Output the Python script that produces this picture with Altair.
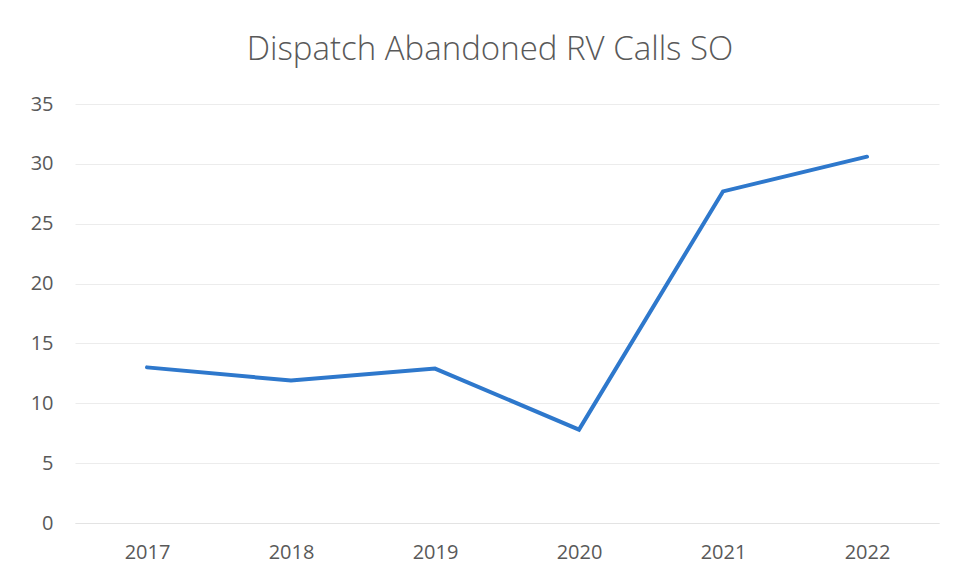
import altair as alt
import pandas as pd

years = ["2017", "2018", "2019", "2020", "2021", "2022"]
calls = [13.0, 11.9, 12.9, 7.8, 27.7, 30.6]

df = pd.DataFrame({"year": years, "calls": calls})

chart = alt.Chart(df).mark_line(
    color="#2E78CC", strokeWidth=4, strokeCap="round", strokeJoin="miter"
).encode(
    x=alt.X("year:N", sort=years, title=None,
            scale=alt.Scale(paddingInner=1, paddingOuter=0.5),
            axis=alt.Axis(labelAngle=0, labelFontSize=20, labelColor="#595959",
                          labelFont="Open Sans", ticks=False, domain=True,
                          domainColor="#e3e3e3", labelPadding=19, grid=False)),
    y=alt.Y("calls:Q", title=None,
            scale=alt.Scale(domain=[0, 35], nice=False),
            axis=alt.Axis(values=[0, 5, 10, 15, 20, 25, 30, 35], labelFontSize=20,
                          labelColor="#595959", labelFont="Open Sans", ticks=False,
                          domain=False, labelPadding=22, gridColor="#ececec",
                          gridWidth=1)),
).properties(
    width=864, height=419,
    title=alt.TitleParams("Dispatch Abandoned RV Calls SO", fontSize=33,
                          font="Open Sans", fontWeight=300, color="#595959",
                          anchor="middle", offset=27, dx=-17),
    autosize=alt.AutoSizeParams(type="none"),
    padding={"left": 67, "top": 96, "right": 9, "bottom": 45},
).configure(background="white", view=alt.ViewConfig(stroke=None))

chart.save("out.html", embed_options={"renderer": "svg", "actions": False})
